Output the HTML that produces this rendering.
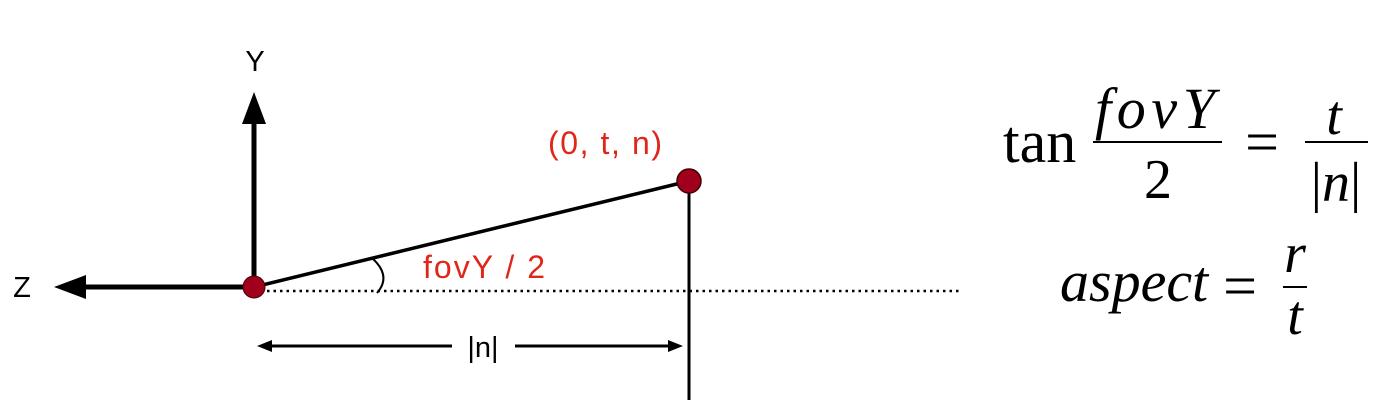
<!DOCTYPE html>
<html><head><meta charset="utf-8"><style>
html,body{margin:0;padding:0;background:#fff;width:1392px;height:414px;overflow:hidden}
svg{display:block}
.s{font-family:"Liberation Sans",sans-serif}
.m{font-family:"Liberation Serif",serif}
</style></head><body>
<svg width="1392" height="414">
<line x1="254" y1="291" x2="960" y2="291" stroke="#000" stroke-width="2.5" stroke-dasharray="2.5,4"/>
<line x1="254" y1="287" x2="254" y2="118" stroke="#000" stroke-width="5"/>
<path d="M254,92 L266,124 L242,124 z" fill="#000"/>
<text class="s" x="255" y="71" font-size="29" text-anchor="middle">Y</text>
<line x1="254" y1="287" x2="80" y2="287" stroke="#000" stroke-width="5"/>
<path d="M54,287 L86,275 L86,299 z" fill="#000"/>
<text class="s" x="22" y="297" font-size="29" text-anchor="middle">Z</text>
<line x1="254" y1="287" x2="689" y2="181" stroke="#000" stroke-width="3.5"/>
<line x1="689" y1="181" x2="689" y2="400" stroke="#000" stroke-width="3"/>
<path d="M372,258 Q392,276 377,293" fill="none" stroke="#000" stroke-width="2"/>
<text class="s" x="423" y="278" font-size="32" textLength="122" fill="#e0261a">fovY / 2</text>
<text class="s" x="548" y="154" font-size="32" textLength="114" fill="#e0261a">(0, t, n)</text>
<circle cx="254" cy="287" r="11" fill="#a0001c" stroke="#400" stroke-width="1"/>
<circle cx="689" cy="181" r="12" fill="#a0001c" stroke="#400" stroke-width="1.5"/>
<line x1="452" y1="346" x2="268" y2="346" stroke="#000" stroke-width="3"/>
<path d="M257,346 L272,340 L272,352 z" fill="#000"/>
<line x1="515" y1="346" x2="672" y2="346" stroke="#000" stroke-width="3"/>
<path d="M683,346 L668,340 L668,352 z" fill="#000"/>
<text class="s" x="483" y="357" font-size="29" text-anchor="middle">|n|</text>
<g class="m">
<text x="1003" y="162" font-size="60">tan</text>
<text x="1095" y="128" font-size="58" font-style="italic" textLength="120">fovY</text>
<line x1="1093" y1="142" x2="1222" y2="142" stroke="#000" stroke-width="2"/>
<text x="1158" y="198" font-size="56" text-anchor="middle">2</text>
<text x="1262" y="162" font-size="60" text-anchor="middle">=</text>
<text x="1334" y="134" font-size="56" font-style="italic" text-anchor="middle">t</text>
<line x1="1305" y1="142" x2="1368" y2="142" stroke="#000" stroke-width="2"/>
<text x="1336" y="201" font-size="56" text-anchor="middle">|<tspan font-style="italic">n</tspan>|</text>
</g>
<g class="m">
<text x="1060" y="301" font-size="58" font-style="italic">aspect</text>
<text x="1240" y="306" font-size="60" text-anchor="middle">=</text>
<text x="1295" y="272" font-size="56" font-style="italic" text-anchor="middle">r</text>
<line x1="1283" y1="287" x2="1307" y2="287" stroke="#000" stroke-width="2"/>
<text x="1295" y="334" font-size="56" font-style="italic" text-anchor="middle">t</text>
</g>
</svg>
</body></html>
